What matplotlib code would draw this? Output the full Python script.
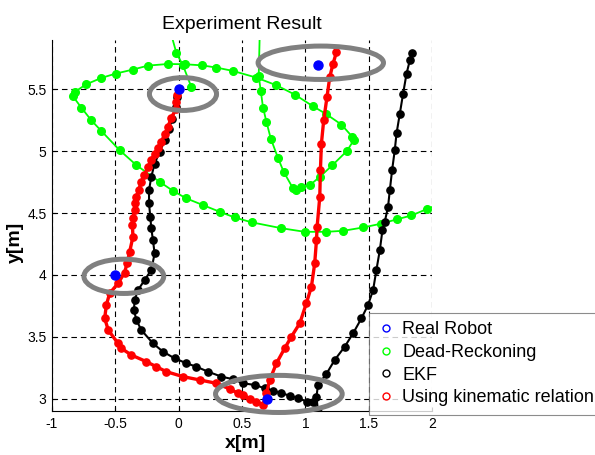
import numpy as np
import matplotlib
matplotlib.use("Agg")
import matplotlib.pyplot as plt
from matplotlib.patches import Ellipse
from matplotlib.lines import Line2D

plt.rcParams['font.family'] = ['Liberation Sans', 'DejaVu Sans']

# real robot positions (blue)
real_x = [0.0, 1.1, -0.5, 0.7]
real_y = [5.5, 5.7, 4.0, 3.0]

# dead-reckoning (green), NaN = leaves the plot area
dr_x = [0.100, 0.034, -0.018, -0.06, np.nan,
        0.64, 0.632, 0.648, 0.666, 0.693, 0.727, 0.784, 0.829, 0.903, 0.930, 0.969, 1.035,
        1.114, 1.214, 1.329, 1.382, 1.372, 1.285, 1.166, 1.061, 0.916, 0.772, 0.613, 0.429,
        0.298, 0.184, 0.047, -0.085, -0.242, -0.361, -0.498, -0.611, -0.729, -0.821, -0.835,
        -0.769, -0.690, -0.611, -0.466, -0.334, -0.150, -0.045, 0.061, 0.192, 0.324, 0.442,
        0.575, 0.811, 0.995, 1.166, 1.298, 1.456, 1.595, 1.720, 1.838, 1.957, 2.05]
dr_y = [5.52, 5.695, 5.795, 5.95, np.nan,
        5.95, 5.61, 5.489, 5.354, 5.238, 5.103, 4.947, 4.834, 4.700, 4.691, 4.712, 4.726,
        4.793, 4.888, 5.003, 5.090, 5.116, 5.216, 5.300, 5.364, 5.459, 5.534, 5.596, 5.650,
        5.677, 5.695, 5.704, 5.706, 5.693, 5.661, 5.628, 5.593, 5.542, 5.480, 5.445,
        5.354, 5.251, 5.165, 5.009, 4.888, 4.753, 4.680, 4.619, 4.565, 4.511, 4.465,
        4.426, 4.378, 4.349, 4.349, 4.357, 4.384, 4.414, 4.449, 4.481, 4.532, 4.57]

# EKF estimate (black)
ekf_x = [-0.013, -0.024, -0.050, -0.077, -0.111, -0.150, -0.190, -0.216, -0.234, -0.234,
         -0.224, -0.216, -0.203, -0.190, -0.216, -0.269, -0.321, -0.348, -0.353, -0.334,
         -0.295, -0.203, -0.124, -0.032, 0.061, 0.140, 0.232, 0.337, 0.429, 0.508, 0.600,
         0.679, 0.745, 0.811, 0.877, 0.942, 1.013, 1.061, 1.100, 1.088, 1.100, 1.166, 1.232,
         1.311, 1.377, 1.443, 1.495, 1.535, 1.561, 1.588, 1.609, 1.627, 1.653, 1.667, 1.685,
         1.706, 1.720, 1.746, 1.772, 1.799, 1.825, 1.846]
ekf_y = [5.44, 5.359, 5.265, 5.184, 5.090, 4.995, 4.901, 4.793, 4.686, 4.578,
         4.470, 4.376, 4.282, 4.174, 4.040, 3.959, 3.878, 3.797, 3.716, 3.636,
         3.555, 3.447, 3.380, 3.326, 3.286, 3.258, 3.218, 3.178, 3.157, 3.124, 3.111,
         3.084, 3.065, 3.044, 3.024, 3.003, 2.976, 2.976, 2.895, 3.016, 3.111, 3.199, 3.313,
         3.420, 3.528, 3.649, 3.757, 3.878, 4.040, 4.201, 4.363, 4.430, 4.551, 4.686, 4.847,
         5.009, 5.144, 5.305, 5.467, 5.628, 5.736, 5.795]

# kinematic relation (red)
kin_x = [-0.013, -0.018, -0.018, -0.058, -0.085, -0.110, -0.137, -0.165, -0.190, -0.215,
         -0.242, -0.270, -0.295, -0.315, -0.334, -0.342, -0.348, -0.362, -0.365, -0.361,
         -0.387, -0.408, -0.427, -0.479, -0.545, -0.571, -0.584, -0.556, -0.479, -0.453,
         -0.374, -0.255, -0.176, -0.097, 0.034, 0.166, 0.298, 0.403, 0.468, 0.508, 0.560,
         0.614, 0.666, 0.693, 0.719, 0.772, 0.837, 0.890, 0.956, 1.008, 1.048, 1.074, 1.088,
         1.093, 1.114, 1.119, 1.127, 1.145, 1.171, 1.193, 1.219, 1.246]
kin_y = [5.453, 5.40, 5.346, 5.273, 5.197, 5.14, 5.076, 5.03, 4.982, 4.93,
         4.874, 4.81, 4.753, 4.69, 4.632, 4.58, 4.524, 4.46, 4.40, 4.309,
         4.187, 4.094, 4.018, 3.932, 3.851, 3.757, 3.649, 3.555, 3.447, 3.407,
         3.353, 3.299, 3.258, 3.218, 3.178, 3.151, 3.124, 3.078, 3.044, 3.030, 3.00,
         2.976, 2.949, 3.044, 3.151, 3.286, 3.407, 3.501, 3.609, 3.771, 3.905, 4.094, 4.282,
         4.389, 4.632, 4.847, 5.063, 5.251, 5.439, 5.601, 5.709, 5.803]

# grey ellipses round the real robot points
ell_x = [0.034, 1.122, -0.433, 0.791]
ell_y = [5.463, 5.716, 3.989, 3.038]
ell_w = [0.53, 0.99, 0.63, 1.0]
ell_h = [0.265, 0.27, 0.277, 0.30]

x_ticks = [-1, -0.5, 0, 0.5, 1, 1.5, 2]
x_labels = ['-1', '-0.5', '0', '0.5', '1', '1.5', '2']
y_ticks = [3, 3.5, 4, 4.5, 5, 5.5]
y_labels = ['3', '3.5', '4', '4.5', '5', '5.5']

legend_labels = ['Real Robot', 'Dead-Reckoning', 'EKF', 'Using kinematic relation']


fig = plt.figure(figsize=(5.95, 4.55), dpi=100)
ax = fig.add_axes([52 / 595, 44 / 455, 380 / 595, 371 / 455])

ax.plot(dr_x, dr_y, '-o', color='#00ff00', lw=1.3, ms=5.5, zorder=3)
ax.plot(ekf_x, ekf_y, '-o', color='black', lw=1.5, ms=5.2, zorder=4)
ax.plot(kin_x, kin_y, '-o', color='red', lw=2.4, ms=5.2, zorder=4)
ax.plot(real_x, real_y, 'o', color='#0000ff', ms=6.5, ls='none', zorder=6)

for i in range(len(ell_x)):
	e = Ellipse((ell_x[i], ell_y[i]), ell_w[i], ell_h[i], fill=False, edgecolor='#808080', lw=3.6,
				clip_on=False, zorder=5)
	ax.add_patch(e)

ax.set_xlim(-1, 2)
ax.set_ylim(2.9, 5.9)
ax.set_xticks(x_ticks)
ax.set_xticklabels(x_labels)
ax.set_yticks(y_ticks)
ax.set_yticklabels(y_labels)
ax.tick_params(direction='in', length=3, labelsize=10, pad=4)

# MATLAB style dashed grid, no top/right box
ax.grid(True, color='black', ls=(0, (5, 3.5)), lw=0.8)
ax.spines['top'].set_visible(False)
ax.spines['right'].set_visible(False)

ax.set_title('Experiment Result', fontsize=14, pad=8)
ax.set_xlabel('x[m]', fontsize=14, fontweight='bold')
ax.set_ylabel('y[m]', fontsize=14, fontweight='bold')
ax.xaxis.set_label_coords(0.51, -0.065)
ax.yaxis.set_label_coords(-0.075, 0.455)

handles = []
for c in ['#0000ff', '#00ff00', 'black', 'red']:
	handles.append(Line2D([], [], ls='none', marker='o', mfc='none', mec=c, ms=5, mew=1))
leg = fig.legend(handles, legend_labels, loc='upper left', bbox_to_anchor=(369 / 595, 1 - 313 / 455),
				 fontsize=13, frameon=True, fancybox=False, borderpad=0.45, handlelength=1.0,
				 handletextpad=0.4, labelspacing=0.32, borderaxespad=0)
leg.get_frame().set_edgecolor('#707070')
leg.get_frame().set_linewidth(0.8)

fig.savefig('out.png', dpi=100)
